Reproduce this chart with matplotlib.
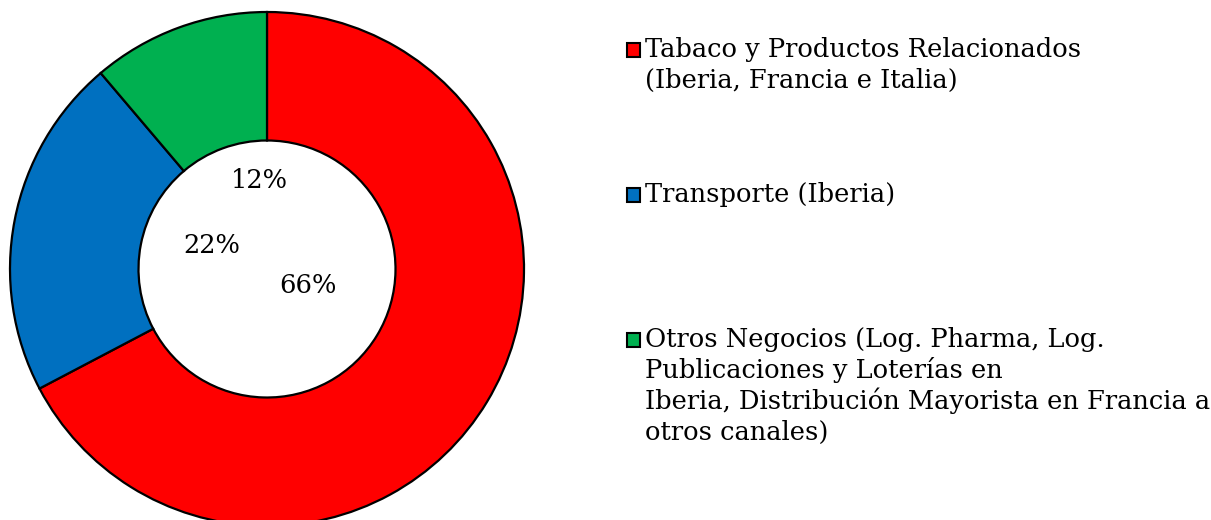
#!/usr/bin/env python3
"""
Donut chart: revenue split by business line, with a side legend
"""

import matplotlib
matplotlib.use("Agg")
import matplotlib.pyplot as plt
import matplotlib.patches as mpatches

shares = [67.3, 21.5, 11.2]
pct_labels = ["66%", "22%", "12%"]
colors = ["#FF0000", "#0070C0", "#00B050"]
legend_lines = [
    ["Tabaco y Productos Relacionados", "(Iberia, Francia e Italia)"],
    ["Transporte (Iberia)"],
    ["Otros Negocios (Log. Pharma, Log.", "Publicaciones y Loterías en",
     "Iberia, Distribución Mayorista en Francia a", "otros canales)"],
]

# Label positions inside the hole (data units, outer radius = 1)
pct_pos = [(0.16, -0.065), (-0.214, 0.09), (-0.031, 0.346)]

W, H = 1211, 520
FONT = "DejaVu Serif"
FS = 18.5

fig = plt.figure(figsize=(W / 100, H / 100), dpi=100, facecolor="white")

# Pie axes placed so that the ring spans x 10..524 px, centre y 269 px from top
r_px = 257
cx, cy = 267, 269
ax = fig.add_axes([(cx - r_px) / W, (H - cy - r_px) / H, 2 * r_px / W, 2 * r_px / H])

wedges, _ = ax.pie(shares, colors=colors, startangle=90, counterclock=False,
                   radius=1.0,
                   wedgeprops=dict(width=0.5, edgecolor="black", linewidth=1.6))
for w in wedges:
    w.set_clip_on(False)
ax.set_xlim(-1, 1)
ax.set_ylim(-1, 1)
ax.set_aspect("equal")
ax.axis("off")

for txt, (x, y) in zip(pct_labels, pct_pos):
    ax.text(x, y, txt, ha="center", va="center", fontsize=FS,
            family=FONT, color="black")


# ===== Legend drawn by hand so the marker sits on the first line =====
def px(x, y_top):
    return x / W, 1 - y_top / H


entry_baselines = [57, 202, 347]
line_step = 31
for color, lines, base in zip(colors, legend_lines, entry_baselines):
    sx, sy = px(627, base)
    fig.patches.append(mpatches.Rectangle(
        (sx, sy), 13 / W, 14 / H, transform=fig.transFigure,
        facecolor=color, edgecolor="black", linewidth=1.5))
    for k, line in enumerate(lines):
        tx, ty = px(645, base + k * line_step)
        fig.text(tx, ty, line, ha="left", va="baseline", fontsize=FS,
                 family=FONT, color="black")

fig.savefig("out.png", dpi=100, facecolor="white")
plt.close(fig)
